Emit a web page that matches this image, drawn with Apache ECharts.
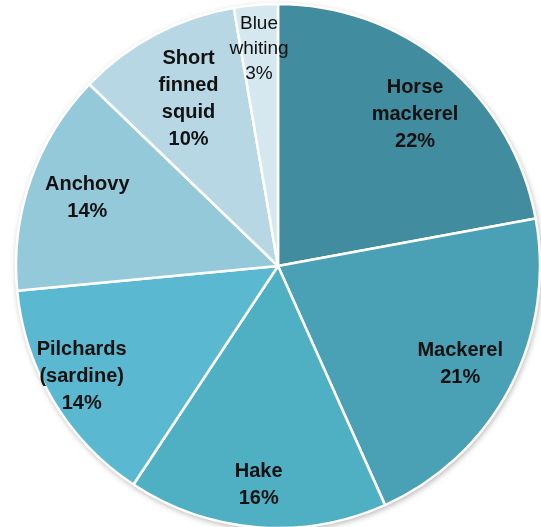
<!DOCTYPE html>
<html>
<head>
<meta charset="utf-8">
<script src="https://cdn.jsdelivr.net/npm/echarts@6/dist/echarts.min.js"></script>
<style>html,body{margin:0;padding:0;background:#fff;}#c{width:541px;height:527px;}</style>
</head>
<body>
<div id="c"></div>
<script>
const categories = ['Horse\nmackerel', 'Mackerel', 'Hake', 'Pilchards\n(sardine)', 'Anchovy', 'Short\nfinned\nsquid', 'Blue\nwhiting'];
const values = [22.1, 21.2, 16.0, 14.2, 13.7, 10.1, 2.7];
const colors = ['#418C9E', '#4AA0B4', '#4FAFC3', '#5AB9D0', '#94C9DA', '#B7D7E4', '#D5E7EF'];
const labelOffsets = [[1, 12], [-6, -1], [-2, 7], [-14, 1], [10, 2], [10, 21], [-1, -5]];

const chart = echarts.init(document.getElementById('c'), null, {renderer: 'canvas'});
const center = [278, 266];
const R = 262;
const total = values.reduce((a, b) => a + b, 0);

const mainData = categories.map((n, i) => ({
  name: n, value: values[i], itemStyle: {color: colors[i]}
}));
const labelData = categories.map((n, i) => ({
  name: n, value: values[i],
  label: Object.assign({offset: labelOffsets[i]},
    i === categories.length - 1 ? {fontWeight: 'normal', fontSize: 19, lineHeight: 25} : {})
}));

chart.setOption({
  animation: false,
  series: [
    {
      type: 'pie', center: center, radius: [0, R], silent: true, startAngle: 90,
      data: [{value: 1, itemStyle: {color: '#fff', shadowBlur: 6, shadowColor: 'rgba(0,0,0,0.35)', shadowOffsetY: 2, shadowOffsetX: 1}}],
      label: {show: false}, labelLine: {show: false}, z: 1
    },
    {
      type: 'pie', center: center, radius: [0, R], startAngle: 90, clockwise: true,
      data: mainData,
      itemStyle: {borderColor: '#fff', borderWidth: 2.5},
      label: {show: false}, labelLine: {show: false}, silent: true, z: 2
    },
    {
      type: 'pie', center: center, radius: [R * 0.6, R], startAngle: 90, clockwise: true,
      data: labelData,
      itemStyle: {color: 'rgba(0,0,0,0)', borderWidth: 0},
      label: {
        show: true, position: 'inside', color: '#111',
        fontFamily: 'Liberation Sans', fontWeight: 'bold', fontSize: 20, lineHeight: 27,
        align: 'center',
        formatter: p => p.name + '\n' + Math.round(p.value / total * 100) + '%'
      },
      labelLine: {show: false}, silent: true, z: 3
    }
  ]
});
</script>
</body>
</html>
